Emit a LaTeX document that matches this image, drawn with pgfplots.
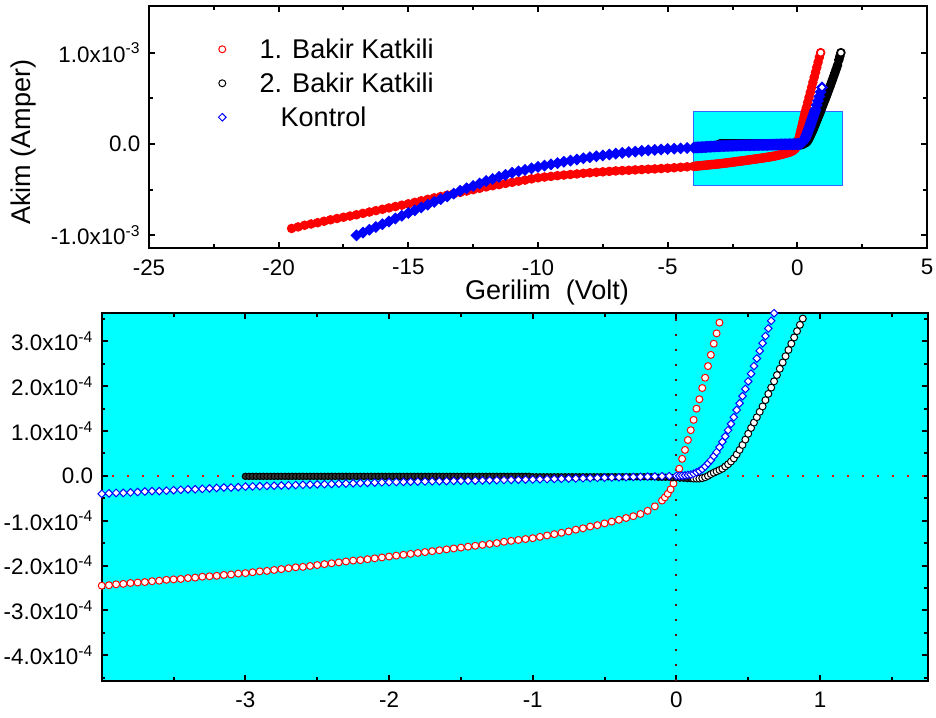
\documentclass[border=0pt]{standalone}
\usepackage{fontspec}
\setmainfont{Liberation Sans}
\usepackage{pgfplots}
\pgfplotsset{compat=1.18}
\usepackage{pgfplotstable}

\pgfplotstableread{
x y
-19.50 -9.25e-4
-19.25 -9.08e-4
-19.00 -8.90e-4
-18.75 -8.76e-4
-18.50 -8.62e-4
-18.25 -8.46e-4
-18.00 -8.30e-4
-17.75 -8.16e-4
-17.50 -8.02e-4
-17.25 -7.89e-4
-17.00 -7.75e-4
-16.75 -7.60e-4
-16.50 -7.45e-4
-16.25 -7.30e-4
-16.00 -7.15e-4
-15.75 -7.00e-4
-15.50 -6.85e-4
-15.25 -6.70e-4
-15.00 -6.55e-4
-14.75 -6.39e-4
-14.50 -6.22e-4
-14.25 -6.06e-4
-14.00 -5.90e-4
-13.75 -5.75e-4
-13.50 -5.60e-4
-13.25 -5.45e-4
-13.00 -5.30e-4
-12.75 -5.15e-4
-12.50 -5.00e-4
-12.25 -4.85e-4
-12.00 -4.70e-4
-11.75 -4.57e-4
-11.50 -4.45e-4
-11.25 -4.32e-4
-11.00 -4.20e-4
-10.75 -4.07e-4
-10.50 -3.95e-4
-10.25 -3.82e-4
-10.00 -3.70e-4
-9.75 -3.62e-4
-9.50 -3.55e-4
-9.25 -3.47e-4
-9.00 -3.40e-4
-8.75 -3.34e-4
-8.50 -3.28e-4
-8.25 -3.21e-4
-8.00 -3.15e-4
-7.75 -3.10e-4
-7.50 -3.05e-4
-7.25 -3.00e-4
-7.00 -2.95e-4
-6.75 -2.91e-4
-6.50 -2.88e-4
-6.25 -2.84e-4
-6.00 -2.80e-4
-5.75 -2.76e-4
-5.50 -2.73e-4
-5.25 -2.69e-4
-5.00 -2.65e-4
-4.75 -2.60e-4
-4.50 -2.55e-4
-4.25 -2.50e-4
-4.00 -2.45e-4
-3.95 -2.44e-4
-3.90 -2.42e-4
-3.85 -2.41e-4
-3.80 -2.39e-4
-3.75 -2.38e-4
-3.70 -2.37e-4
-3.65 -2.35e-4
-3.60 -2.34e-4
-3.55 -2.32e-4
-3.50 -2.31e-4
-3.45 -2.30e-4
-3.40 -2.28e-4
-3.35 -2.27e-4
-3.30 -2.25e-4
-3.25 -2.24e-4
-3.20 -2.23e-4
-3.15 -2.21e-4
-3.10 -2.20e-4
-3.05 -2.18e-4
-3.00 -2.17e-4
-2.95 -2.15e-4
-2.90 -2.13e-4
-2.85 -2.12e-4
-2.80 -2.10e-4
-2.75 -2.08e-4
-2.70 -2.06e-4
-2.65 -2.04e-4
-2.60 -2.03e-4
-2.55 -2.01e-4
-2.50 -1.99e-4
-2.45 -1.97e-4
-2.40 -1.95e-4
-2.35 -1.93e-4
-2.30 -1.91e-4
-2.25 -1.89e-4
-2.20 -1.88e-4
-2.15 -1.86e-4
-2.10 -1.84e-4
-2.05 -1.82e-4
-2.00 -1.80e-4
-1.95 -1.78e-4
-1.90 -1.76e-4
-1.85 -1.74e-4
-1.80 -1.72e-4
-1.75 -1.70e-4
-1.70 -1.68e-4
-1.65 -1.66e-4
-1.60 -1.64e-4
-1.55 -1.62e-4
-1.50 -1.60e-4
-1.45 -1.58e-4
-1.40 -1.56e-4
-1.35 -1.54e-4
-1.30 -1.52e-4
-1.25 -1.50e-4
-1.20 -1.47e-4
-1.15 -1.45e-4
-1.10 -1.43e-4
-1.05 -1.41e-4
-1.00 -1.39e-4
-0.95 -1.36e-4
-0.90 -1.33e-4
-0.85 -1.30e-4
-0.80 -1.27e-4
-0.75 -1.24e-4
-0.70 -1.20e-4
-0.65 -1.17e-4
-0.60 -1.13e-4
-0.55 -1.10e-4
-0.50 -1.06e-4
-0.45 -1.02e-4
-0.40 -0.98e-4
-0.35 -0.94e-4
-0.30 -0.90e-4
-0.25 -0.85e-4
-0.20 -0.78e-4
-0.15 -0.68e-4
-0.10 -0.55e-4
-0.08 -0.48e-4
-0.06 -0.40e-4
-0.04 -0.30e-4
-0.02 -0.17e-4
0.00 -0.02e-4
0.02 0.16e-4
0.04 0.38e-4
0.06 0.58e-4
0.08 0.80e-4
0.10 1.02e-4
0.12 1.25e-4
0.14 1.50e-4
0.16 1.71e-4
0.18 1.96e-4
0.20 2.19e-4
0.22 2.45e-4
0.24 2.70e-4
0.26 2.95e-4
0.28 3.18e-4
0.30 3.42e-4
0.32 3.65e-4
0.35 4.00e-4
0.40 4.55e-4
0.45 5.10e-4
0.50 5.65e-4
0.55 6.20e-4
0.60 6.75e-4
0.65 7.30e-4
0.70 7.85e-4
0.75 8.40e-4
0.80 8.95e-4
0.85 9.50e-4
0.90 10.00e-4
}\redtab

\pgfplotstableread{
x y
-3.000 -0.01e-4
-2.975 -0.01e-4
-2.950 -0.01e-4
-2.925 -0.01e-4
-2.900 -0.01e-4
-2.875 -0.01e-4
-2.850 -0.01e-4
-2.825 -0.01e-4
-2.800 -0.01e-4
-2.775 -0.01e-4
-2.750 -0.01e-4
-2.725 -0.01e-4
-2.700 -0.01e-4
-2.675 -0.01e-4
-2.650 -0.01e-4
-2.625 -0.01e-4
-2.600 -0.01e-4
-2.575 -0.01e-4
-2.550 -0.01e-4
-2.525 -0.01e-4
-2.500 -0.01e-4
-2.475 -0.01e-4
-2.450 -0.01e-4
-2.425 -0.01e-4
-2.400 -0.01e-4
-2.375 -0.01e-4
-2.350 -0.01e-4
-2.325 -0.01e-4
-2.300 -0.01e-4
-2.275 -0.01e-4
-2.250 -0.01e-4
-2.225 -0.01e-4
-2.200 -0.01e-4
-2.175 -0.01e-4
-2.150 -0.01e-4
-2.125 -0.01e-4
-2.100 -0.01e-4
-2.075 -0.01e-4
-2.050 -0.01e-4
-2.025 -0.01e-4
-2.000 -0.01e-4
-1.975 -0.01e-4
-1.950 -0.01e-4
-1.925 -0.01e-4
-1.900 -0.01e-4
-1.875 -0.01e-4
-1.850 -0.01e-4
-1.825 -0.01e-4
-1.800 -0.01e-4
-1.775 -0.01e-4
-1.750 -0.01e-4
-1.725 -0.01e-4
-1.700 -0.01e-4
-1.675 -0.01e-4
-1.650 -0.01e-4
-1.625 -0.01e-4
-1.600 -0.01e-4
-1.575 -0.01e-4
-1.550 -0.01e-4
-1.525 -0.01e-4
-1.500 -0.01e-4
-1.475 -0.01e-4
-1.450 -0.01e-4
-1.425 -0.01e-4
-1.400 -0.01e-4
-1.375 -0.01e-4
-1.350 -0.01e-4
-1.325 -0.01e-4
-1.300 -0.01e-4
-1.275 -0.01e-4
-1.250 -0.01e-4
-1.225 -0.01e-4
-1.200 -0.01e-4
-1.175 -0.01e-4
-1.150 -0.01e-4
-1.125 -0.01e-4
-1.100 -0.01e-4
-1.075 -0.01e-4
-1.050 -0.01e-4
-1.025 -0.01e-4
-1.000 -0.02e-4
-0.975 -0.02e-4
-0.950 -0.02e-4
-0.925 -0.02e-4
-0.900 -0.02e-4
-0.875 -0.02e-4
-0.850 -0.02e-4
-0.825 -0.02e-4
-0.800 -0.02e-4
-0.775 -0.02e-4
-0.750 -0.02e-4
-0.725 -0.02e-4
-0.700 -0.02e-4
-0.675 -0.02e-4
-0.650 -0.02e-4
-0.625 -0.02e-4
-0.600 -0.02e-4
-0.575 -0.02e-4
-0.550 -0.02e-4
-0.525 -0.02e-4
-0.500 -0.02e-4
-0.475 -0.02e-4
-0.450 -0.02e-4
-0.425 -0.02e-4
-0.400 -0.02e-4
-0.375 -0.02e-4
-0.350 -0.02e-4
-0.325 -0.02e-4
-0.300 -0.02e-4
-0.275 -0.02e-4
-0.250 -0.02e-4
-0.225 -0.02e-4
-0.200 -0.02e-4
-0.175 -0.02e-4
-0.150 -0.02e-4
-0.125 -0.03e-4
-0.100 -0.03e-4
-0.075 -0.03e-4
-0.050 -0.03e-4
-0.025 -0.04e-4
0.000 -0.04e-4
0.025 -0.05e-4
0.050 -0.05e-4
0.075 -0.06e-4
0.100 -0.06e-4
0.12 -0.06e-4
0.14 -0.06e-4
0.16 -0.06e-4
0.18 -0.05e-4
0.20 -0.03e-4
0.22 0.00e-4
0.24 0.04e-4
0.26 0.07e-4
0.28 0.10e-4
0.30 0.13e-4
0.32 0.16e-4
0.34 0.21e-4
0.36 0.26e-4
0.38 0.32e-4
0.40 0.39e-4
0.42 0.48e-4
0.44 0.58e-4
0.46 0.69e-4
0.48 0.81e-4
0.50 0.94e-4
0.52 1.07e-4
0.54 1.19e-4
0.56 1.31e-4
0.58 1.43e-4
0.60 1.55e-4
0.62 1.69e-4
0.64 1.83e-4
0.66 1.97e-4
0.68 2.11e-4
0.70 2.25e-4
0.72 2.39e-4
0.74 2.53e-4
0.76 2.67e-4
0.78 2.81e-4
0.80 2.95e-4
0.82 3.09e-4
0.84 3.23e-4
0.86 3.37e-4
0.88 3.51e-4
0.90 3.65e-4
0.95 4.00e-4
1.00 4.36e-4
1.05 4.72e-4
1.10 5.09e-4
1.15 5.46e-4
1.20 5.84e-4
1.25 6.22e-4
1.30 6.61e-4
1.35 7.00e-4
1.40 7.40e-4
1.45 7.80e-4
1.50 8.21e-4
1.55 8.62e-4
1.60 9.20e-4
1.64 9.60e-4
1.68 10.00e-4
}\blacktab

\pgfplotstableread{
x y
-17.00 -10.00e-4
-16.75 -9.70e-4
-16.50 -9.39e-4
-16.25 -9.09e-4
-16.00 -8.78e-4
-15.75 -8.48e-4
-15.50 -8.17e-4
-15.25 -7.87e-4
-15.00 -7.56e-4
-14.75 -7.26e-4
-14.50 -6.95e-4
-14.25 -6.65e-4
-14.00 -6.34e-4
-13.75 -6.04e-4
-13.50 -5.73e-4
-13.25 -5.43e-4
-13.00 -5.12e-4
-12.75 -4.85e-4
-12.50 -4.59e-4
-12.25 -4.32e-4
-12.00 -4.05e-4
-11.75 -3.83e-4
-11.50 -3.60e-4
-11.25 -3.38e-4
-11.00 -3.15e-4
-10.75 -2.99e-4
-10.50 -2.83e-4
-10.25 -2.66e-4
-10.00 -2.50e-4
-9.75 -2.36e-4
-9.50 -2.23e-4
-9.25 -2.09e-4
-9.00 -1.95e-4
-8.75 -1.82e-4
-8.50 -1.70e-4
-8.25 -1.57e-4
-8.00 -1.45e-4
-7.75 -1.35e-4
-7.50 -1.25e-4
-7.25 -1.15e-4
-7.00 -1.05e-4
-6.75 -0.98e-4
-6.50 -0.90e-4
-6.25 -0.83e-4
-6.00 -0.75e-4
-5.75 -0.70e-4
-5.50 -0.65e-4
-5.25 -0.60e-4
-5.00 -0.55e-4
-4.75 -0.51e-4
-4.50 -0.48e-4
-4.25 -0.44e-4
-4.00 -0.40e-4
-3.95 -0.39e-4
-3.90 -0.38e-4
-3.85 -0.38e-4
-3.80 -0.37e-4
-3.75 -0.36e-4
-3.70 -0.35e-4
-3.65 -0.34e-4
-3.60 -0.34e-4
-3.55 -0.33e-4
-3.50 -0.32e-4
-3.45 -0.31e-4
-3.40 -0.30e-4
-3.35 -0.30e-4
-3.30 -0.29e-4
-3.25 -0.28e-4
-3.20 -0.27e-4
-3.15 -0.26e-4
-3.10 -0.26e-4
-3.05 -0.25e-4
-3.00 -0.24e-4
-2.95 -0.235e-4
-2.90 -0.23e-4
-2.85 -0.225e-4
-2.80 -0.22e-4
-2.75 -0.215e-4
-2.70 -0.21e-4
-2.65 -0.205e-4
-2.60 -0.20e-4
-2.55 -0.195e-4
-2.50 -0.19e-4
-2.45 -0.185e-4
-2.40 -0.18e-4
-2.35 -0.175e-4
-2.30 -0.17e-4
-2.25 -0.165e-4
-2.20 -0.16e-4
-2.15 -0.155e-4
-2.10 -0.15e-4
-2.05 -0.145e-4
-2.00 -0.14e-4
-1.95 -0.137e-4
-1.90 -0.134e-4
-1.85 -0.131e-4
-1.80 -0.128e-4
-1.75 -0.125e-4
-1.70 -0.122e-4
-1.65 -0.119e-4
-1.60 -0.116e-4
-1.55 -0.113e-4
-1.50 -0.110e-4
-1.45 -0.107e-4
-1.40 -0.104e-4
-1.35 -0.101e-4
-1.30 -0.098e-4
-1.25 -0.095e-4
-1.20 -0.092e-4
-1.15 -0.089e-4
-1.10 -0.086e-4
-1.05 -0.083e-4
-1.00 -0.080e-4
-0.95 -0.076e-4
-0.90 -0.072e-4
-0.85 -0.068e-4
-0.80 -0.064e-4
-0.75 -0.060e-4
-0.70 -0.056e-4
-0.65 -0.052e-4
-0.60 -0.048e-4
-0.55 -0.044e-4
-0.50 -0.040e-4
-0.45 -0.036e-4
-0.40 -0.032e-4
-0.35 -0.028e-4
-0.30 -0.024e-4
-0.25 -0.020e-4
-0.20 -0.016e-4
-0.15 -0.012e-4
-0.10 -0.008e-4
-0.05 -0.004e-4
0.00 0.000e-4
0.02 0.000e-4
0.04 0.005e-4
0.06 0.01e-4
0.08 0.02e-4
0.10 0.03e-4
0.12 0.05e-4
0.14 0.08e-4
0.16 0.11e-4
0.18 0.15e-4
0.20 0.21e-4
0.22 0.28e-4
0.24 0.35e-4
0.26 0.44e-4
0.28 0.53e-4
0.30 0.64e-4
0.32 0.76e-4
0.34 0.88e-4
0.36 1.02e-4
0.38 1.16e-4
0.40 1.31e-4
0.42 1.47e-4
0.44 1.62e-4
0.46 1.78e-4
0.48 1.94e-4
0.50 2.11e-4
0.52 2.28e-4
0.54 2.45e-4
0.56 2.62e-4
0.58 2.79e-4
0.60 2.96e-4
0.62 3.12e-4
0.64 3.29e-4
0.66 3.46e-4
0.68 3.63e-4
0.70 3.80e-4
0.75 4.25e-4
0.80 4.72e-4
0.85 5.20e-4
0.90 5.70e-4
0.95 6.20e-4
}\bluetab

\definecolor{aqua}{RGB}{0,255,255}
\definecolor{boxblue}{RGB}{51,102,255}
\definecolor{dotdark}{RGB}{90,20,20}

\pgfplotsset{
  common/.style={
    scale only axis,
    axis line style={line width=1.5pt},
    every tick/.style={black, line width=1.5pt},
    tick align=inside,
    major tick length=4.5pt,
    minor tick length=2.7pt,
    scaled ticks=false,
    tick label style={font=\fontsize{16.8}{19}\selectfont},
    xticklabel style={yshift=-5pt},
    yticklabel style={xshift=-3pt},
    label style={font=\fontsize{20.3}{24}\selectfont},
  },
  redser/.style={only marks, mark=*, mark size=2.6pt,
    mark options={draw=red, fill=white, line width=0.75pt}},
  blkser/.style={only marks, mark=*, mark size=2.6pt,
    mark options={draw=black, fill=white, line width=0.75pt}},
  blkfill/.style={only marks, mark=*, mark size=2.4pt,
    mark options={draw=black, fill=black!80, line width=0.75pt}},
  bluser/.style={only marks, mark=square*, mark size=2.0pt,
    mark options={draw=blue, fill=white, rotate=45, line width=0.75pt}},
  redtop/.style={only marks, mark=*, mark size=3.2pt,
    mark options={draw=red, fill=red, line width=0.75pt}},
  blktop/.style={only marks, mark=*, mark size=3.2pt,
    mark options={draw=black, fill=black, line width=0.75pt}},
  blutop/.style={only marks, mark=square*, mark size=2.8pt,
    mark options={draw=blue, fill=blue, rotate=45, line width=0.75pt}},
}

\begin{document}
\begin{tikzpicture}
\useasboundingbox (0pt,0pt) rectangle (702pt,-538.5pt);

% ---------------- top axis ----------------
\begin{axis}[common,
  at={(111.75pt,-186pt)}, anchor=south west,
  width=583.5pt, height=181.5pt,
  xmin=-25, xmax=5, ymin=-1.139e-3, ymax=1.511e-3,
  xtick={-25,-20,-15,-10,-5,0,5},
  xticklabels={-25,-20,-15,-10,-5,0,5},
  minor xtick={-22.5,-17.5,-12.5,-7.5,-2.5,2.5},
  ytick={-1e-3,0,1e-3},
  yticklabels={-1.0x10\textsuperscript{-3},0.0,1.0x10\textsuperscript{-3}},
  minor ytick={-5e-4,5e-4},
  xlabel={Gerilim\ \ (Volt)},
  ylabel={Akim (Amper)},
  xlabel style={at={(axis description cs:0.5116,-0.182)}, anchor=center},
  ylabel style={at={(axis description cs:-0.1607,0.438)}, anchor=center},
  legend cell align=left,
  legend image code/.code={\path[draw=none,fill=none] (-4pt,0pt) -- (28pt,0pt); \draw[#1, only marks] plot coordinates {(0pt,0pt)};},
  legend style={draw=none, fill=none, inner sep=0pt, row sep=0pt,
    at={(axis description cs:0.087,0.8926)}, anchor=north west,
    font=\fontsize{20.3}{24}\selectfont,
    nodes={inner xsep=0pt, inner ysep=5.5pt, text height=14.5pt, text depth=0pt}},
]
\addplot[fill=aqua, draw=boxblue, line width=0.75pt, forget plot]
  coordinates {(-4,-4.57e-4) (1.75,-4.57e-4) (1.75,3.58e-4) (-4,3.58e-4)} -- cycle;
\addplot[redtop, forget plot] table {\redtab};
\addplot[redser] coordinates {(0.90,10.00e-4)};
\addlegendentry{1. Bakir Katkili}
\addplot[blktop, forget plot] table {\blacktab};
\addplot[blkser] coordinates {(1.68,10.00e-4)};
\addlegendentry{2. Bakir Katkili}
\addplot[blutop, forget plot] table {\bluetab};
\addplot[bluser] coordinates {(0.95,6.20e-4)};
\addlegendentry{\hspace*{15.75pt}Kontrol}
\end{axis}

% ---------------- bottom axis ----------------
\begin{axis}[common,
  at={(76.3pt,-510.5pt)}, anchor=south west,
  width=619.5pt, height=275.6pt,
  axis background/.style={fill=aqua},
  xmin=-4, xmax=1.75, ymin=-4.57e-4, ymax=3.63e-4,
  xtick={-3,-2,-1,0,1},
  xticklabels={-3,-2,-1,0,1},
  minor xtick={-3.5,-2.5,-1.5,-0.5,0.5,1.5},
  ytick={-4e-4,-3e-4,-2e-4,-1e-4,0,1e-4,2e-4,3e-4},
  yticklabels={-4.0x10\textsuperscript{-4},-3.0x10\textsuperscript{-4},-2.0x10\textsuperscript{-4},-1.0x10\textsuperscript{-4},0.0,1.0x10\textsuperscript{-4},2.0x10\textsuperscript{-4},3.0x10\textsuperscript{-4}},
  minor ytick={-4.5e-4,-3.5e-4,-2.5e-4,-1.5e-4,-0.5e-4,0.5e-4,1.5e-4,2.5e-4,3.5e-4},
]
\addplot[redser] table {\redtab};
\addplot[blkfill, restrict x to domain=-3.1:0.11] table {\blacktab};
\addplot[blkser, restrict x to domain=0.115:2] table {\blacktab};
\addplot[bluser] table {\bluetab};
\addplot[red, line width=1.5pt, dash pattern=on 1.5pt off 9.75pt] coordinates {(-3.93,0) (1.75,0)};
\addplot[dotdark, line width=1.5pt, dash pattern=on 1.5pt off 9.75pt] coordinates {(0,-4.57e-4) (0,3.63e-4)};
\end{axis}
\end{tikzpicture}
\end{document}
